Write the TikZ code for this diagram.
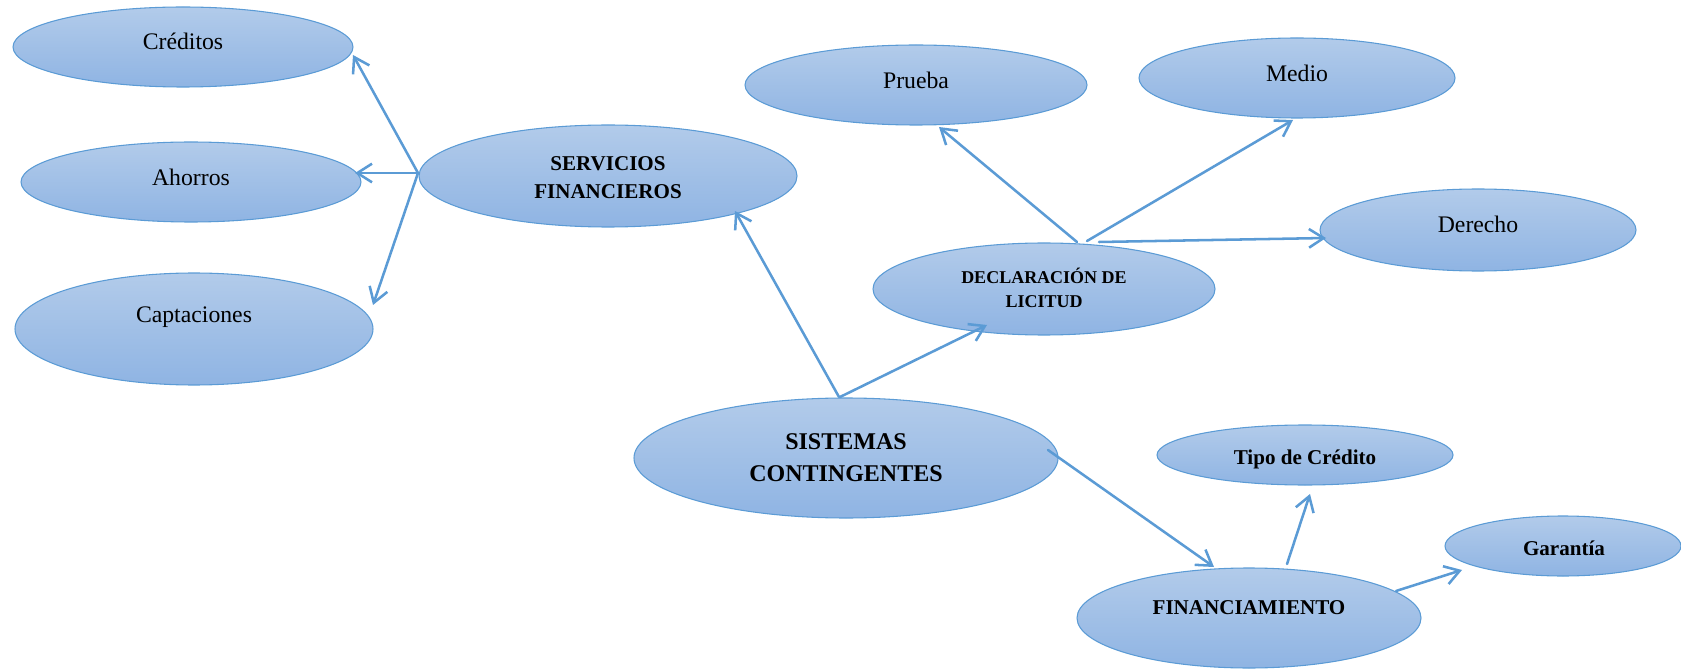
\documentclass[tikz,border=0pt]{standalone}
\usepackage{fontspec}
\setmainfont{Liberation Serif}
\usetikzlibrary{shapes.geometric,arrows.meta,calc}
\definecolor{edgeblue}{RGB}{91,155,213}
\definecolor{filltop}{RGB}{178,203,234}
\definecolor{fillbot}{RGB}{143,180,227}
\begin{document}
\begin{tikzpicture}[x=0.75pt,y=-0.75pt,
  bubble/.style 2 args={ellipse, draw=edgeblue, line width=0.8pt,
    top color=filltop, bottom color=fillbot, inner sep=0pt,
    minimum width=#1*1.5pt, minimum height=#2*1.5pt},
  lbl/.style={anchor=base, font=\fontsize{17.8}{20}\selectfont},
  blbl/.style={anchor=base, font=\fontsize{15.8}{18}\selectfont\bfseries},
  conn/.style={draw=edgeblue, line width=1.9pt, line cap=round, line join=round,
    -{Straight Barb[length=11pt,width=14pt]}}]
\useasboundingbox (0,0) rectangle (1681,670);

% ellipses
\node[bubble={170}{40}] (cre) at (183,47) {};
\node[bubble={170}{40}] (aho) at (191,182) {};
\node[bubble={179}{56}] (cap) at (194,329) {};
\node[bubble={189}{51}] (sf) at (608,176) {};
\node[bubble={171}{40}] (pru) at (916,85) {};
\node[bubble={158}{40}] (med) at (1297,78) {};
\node[bubble={158}{41}] (der) at (1478,230) {};
\node[bubble={171}{46}] (dl) at (1044,289) {};
\node[bubble={212}{60}] (sc) at (846,458) {};
\node[bubble={148}{30}] (tdc) at (1305,455) {};
\node[bubble={118}{30}] (gar) at (1563,546) {};
\node[bubble={172}{50}] (fin) at (1249,618) {};

% labels
\node[lbl] (cre-t) at (183,50) {Créditos};
\node[lbl] (aho-t) at (191,186) {Ahorros};
\node[lbl] (cap-t) at (194,322) {Captaciones};
\node[lbl] (pru-t) at (916,89) {Prueba};
\node[lbl] (med-t) at (1297,82) {Medio};
\node[lbl] (der-t) at (1478,233) {Derecho};
\node[blbl] (sf-t1) at (608,171) {SERVICIOS};
\node[blbl] (sf-t2) at (608,199) {FINANCIEROS};
\node[blbl, font=\fontsize{13.5}{16}\selectfont\bfseries] (dl-t1) at (1044,284) {DECLARACIÓN DE};
\node[blbl, font=\fontsize{13.5}{16}\selectfont\bfseries] (dl-t2) at (1044,308) {LICITUD};
\node[blbl, font=\fontsize{18}{21}\selectfont\bfseries] (sc-t1) at (846,449) {SISTEMAS};
\node[blbl, font=\fontsize{18}{21}\selectfont\bfseries] (sc-t2) at (846,481) {CONTINGENTES};
\node[blbl] (tdc-t) at (1305,464) {Tipo de Crédito};
\node[blbl] (gar-t) at (1564,555) {Garantía};
\node[blbl] (fin-t) at (1249,614) {FINANCIAMIENTO};

% connectors
\draw[conn] ($(sf)+(-190,-3)$) -- ($(cre)+(170,8)$);
\draw[conn] ($(sf)+(-190,-3)$) -- ($(aho)+(164,-9)$);
\draw[conn] ($(sf)+(-190,-3)$) -- ($(cap)+(179,-24)$);
\draw[conn] ($(sc)+(-7,-61)$) -- ($(sf)+(127,35)$);
\draw[conn] ($(sc)+(-6,-61)$) -- ($(dl)+(-57,36)$);
\draw[conn] ($(dl)+(33,-47)$) -- ($(pru)+(23,42)$);
\draw[conn] ($(dl)+(43,-48)$) -- ($(med)+(-4,42)$);
\draw[conn] ($(dl)+(55,-47)$) -- ($(der)+(-152,8)$);
\draw[conn] ($(sc)+(202,-8)$) -- ($(fin)+(-35,-51)$);
\draw[conn] ($(fin)+(38,-54)$) -- ($(tdc)+(5,39)$);
\draw[conn] ($(fin)+(147,-27)$) -- ($(gar)+(-101,24)$);
\end{tikzpicture}
\end{document}
